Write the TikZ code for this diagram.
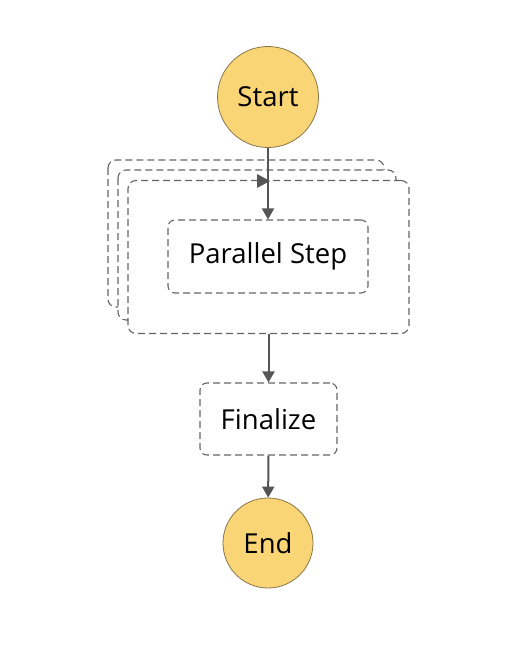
\documentclass[tikz,border=0pt]{standalone}
\usepackage{fontspec}
\setmainfont{Open Sans}
\usetikzlibrary{arrows.meta}
\definecolor{startfill}{HTML}{FAD576}
\definecolor{startline}{HTML}{8A7648}
\definecolor{dashline}{HTML}{666666}
\definecolor{arrowc}{HTML}{555555}
\tikzset{
  term/.style={circle, draw=startline, line width=0.8pt, fill=startfill, inner sep=0pt, font=\fontsize{27.5}{32}\selectfont},
  taskbox/.style={draw=dashline, dash pattern=on 7pt off 4pt, line width=1.1pt, rounded corners=7pt, fill=white, inner sep=0pt, font=\fontsize{27.5}{32}\selectfont},
  layer/.style={draw=dashline, dash pattern=on 7pt off 4pt, line width=1.1pt, rounded corners=8pt, fill=white},
  flow/.style={draw=arrowc, line width=2pt, -{Triangle[length=11pt,width=12pt]}}
}
\begin{document}
\begin{tikzpicture}[x=1pt,y=-1pt]
\useasboundingbox[fill=white] (0,0) rectangle (516,646);
% stacked parallel container
\draw[layer] (108,160) rectangle (384,307);
\draw[layer] (118,170) rectangle (396,320);
\node[layer, minimum width=281pt, minimum height=153pt, inner sep=0pt] (par) at (268.5,257) {};
% nodes
\node[term, minimum size=101pt] (start) at (268,97) {Start};
\node[taskbox, minimum width=200pt, minimum height=73pt] (pstep) at (268,256.5) {\raisebox{-2pt}{Parallel Step}};
\node[taskbox, minimum width=137pt, minimum height=72pt] (final) at (268.5,419) {\raisebox{-1pt}{Finalize}};
\node[term, minimum size=90pt] (end) at (268,543) {End};
% connectors
\draw[flow] (start) -- (pstep);
\fill[arrowc] (270,181) -- (257,174) -- (257,188) -- cycle;
\draw[flow] (par) -- (final);
\draw[flow] (final) -- (end);
\end{tikzpicture}
\end{document}
